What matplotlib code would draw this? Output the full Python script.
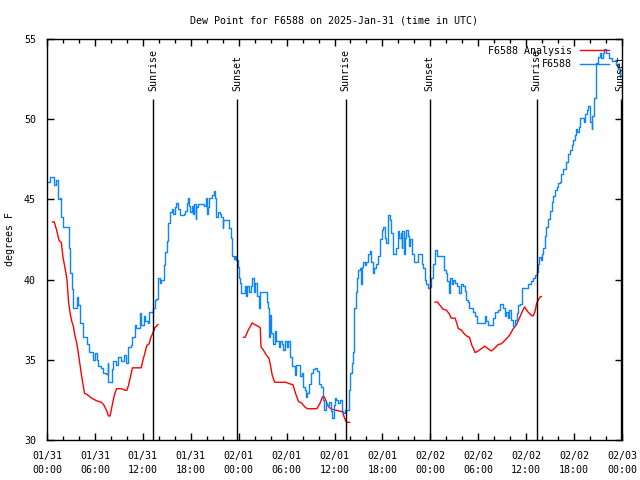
#!/usr/bin/python
# -*- coding: utf-8 -*-
"""
dew point chart for F6588, gnuplot look-alike
time axis in hours after 2025-01-31 00:00 UTC
"""

import numpy as np
import matplotlib
matplotlib.use('Agg')
import matplotlib.pyplot as plt
from matplotlib.ticker import MultipleLocator

# observed dew point (F6588)
obs_hours = [0.15, 0.4, 0.8, 0.9, 1.1, 1.4, 1.6, 1.8, 2.0, 2.5, 2.7, 2.9, 3.1, 3.3, 3.6, 3.7, 3.9,
             4.1, 4.5, 5.0, 5.2, 5.6, 5.8, 6.0, 6.2, 6.4, 6.8, 7.0, 7.4, 7.6, 7.7, 7.9, 8.1, 8.3,
             8.6, 8.9, 9.3, 9.7, 9.9, 10.1, 10.5, 10.7, 11.0, 11.2, 11.6, 11.8, 12.1, 12.3, 12.6,
             12.8, 13.1, 13.3, 13.5, 13.7, 13.9, 14.1, 14.3, 14.6, 14.8, 15.0, 15.2, 15.4, 15.6,
             15.8, 16.0, 16.2, 16.4, 16.6, 17.1, 17.3, 17.5, 17.6, 17.8, 17.9, 18.1, 18.3, 18.4,
             18.6, 18.7, 18.9, 19.7, 19.9, 20.0, 20.2, 20.3, 20.6, 20.9, 21.0, 21.2, 21.4, 21.6,
             21.8, 22.0, 22.1, 22.4, 22.8, 23.0, 23.2, 23.4, 23.6, 23.7, 23.9, 24.0, 24.2, 24.3,
             24.6, 24.8, 24.9, 25.1, 25.3, 25.5, 25.7, 25.9, 26.1, 26.3, 26.5, 26.7, 27.1, 27.5,
             27.7, 27.8, 27.9, 28.0, 28.3, 28.5, 28.7, 29.0, 29.2, 29.4, 29.6, 29.8, 30.1, 30.2,
             30.4, 30.7, 31.0, 31.2, 31.5, 31.7, 31.9, 32.1, 32.3, 32.4, 32.6, 32.8, 33.0, 33.3,
             33.5, 33.8, 34.0, 34.3, 34.5, 34.6, 34.7, 34.9, 35.1, 35.3, 35.5, 35.7, 35.9, 36.0,
             36.2, 36.5, 36.7, 36.9, 37.1, 37.3, 37.7, 37.8, 37.9, 38.0, 38.2, 38.3, 38.4, 38.5,
             38.7, 38.8, 39.0, 39.2, 39.3, 39.5, 39.6, 39.8, 40.0, 40.2, 40.4, 40.6, 40.8, 41.0,
             41.2, 41.5, 41.7, 41.9, 42.1, 42.3, 42.5, 42.7, 42.9, 43.1, 43.3, 43.6, 43.7, 43.9,
             44.1, 44.3, 44.4, 44.5, 44.7, 44.8, 45.0, 45.2, 45.3, 45.5, 45.7, 45.9, 46.2, 46.4,
             46.7, 46.9, 47.1, 47.3, 47.5, 47.7, 47.9, 48.1, 48.3, 48.6, 48.8, 49.5, 49.7, 49.9,
             50.1, 50.3, 50.5, 50.7, 50.9, 51.1, 51.4, 51.6, 51.8, 52.1, 52.3, 52.5, 52.7, 52.9,
             53.1, 53.3, 53.6, 53.9, 54.6, 54.8, 55.0, 55.2, 55.6, 55.8, 56.1, 56.5, 56.7, 56.9,
             57.1, 57.3, 57.5, 57.7, 57.8, 58.1, 58.3, 58.4, 58.6, 58.8, 59.0, 59.2, 59.4, 59.5,
             60.0, 60.2, 60.6, 60.8, 61.1, 61.3, 61.5, 61.6, 61.8, 62.0, 62.1, 62.3, 62.5, 62.7,
             63.0, 63.2, 63.4, 63.6, 63.8, 64.0, 64.2, 64.4, 64.6, 64.8, 65.0, 65.2, 65.5, 65.7,
             65.9, 66.1, 66.2, 66.4, 66.6, 66.8, 67.1, 67.2, 67.4, 67.6, 67.8, 68.0, 68.2, 68.3,
             68.5, 68.7, 68.8, 69.0, 69.2, 69.4, 69.6, 69.7, 69.8, 70.0, 70.4, 70.7, 71.1, 71.3,
             71.5, 71.7]
obs_dewpt = [46.1, 46.4, 46.4, 45.9, 46.2, 45.0, 45.1, 43.9, 43.3, 43.3, 42.0, 40.4, 39.4, 38.2,
             38.2, 38.9, 38.4, 37.3, 36.4, 36.0, 35.5, 35.5, 35.0, 35.4, 35.0, 34.6, 34.5, 34.2,
             34.1, 34.8, 33.6, 33.6, 34.4, 34.9, 34.7, 35.2, 34.9, 35.3, 34.8, 35.8, 35.9, 36.4,
             37.2, 37.0, 37.9, 37.2, 37.7, 37.4, 37.3, 38.0, 38.0, 38.2, 38.7, 38.8, 40.1, 39.8,
             40.0, 40.9, 41.7, 42.4, 43.5, 44.2, 44.4, 44.1, 44.5, 44.75, 44.4, 44.0, 44.1, 44.3,
             44.75, 45.1, 44.6, 44.2, 44.6, 44.1, 44.7, 43.8, 44.5, 44.7, 44.6, 45.1, 44.1, 44.5,
             45.1, 45.3, 45.5, 45.1, 43.9, 44.2, 44.1, 43.9, 43.2, 43.7, 43.7, 43.2, 42.6, 41.5,
             41.3, 41.5, 41.2, 40.8, 40.1, 39.8, 39.15, 39.15, 39.6, 39.0, 39.6, 39.2, 39.6, 40.1,
             39.2, 39.8, 39.0, 38.2, 39.25, 39.2, 38.6, 38.2, 36.4, 37.8, 36.7, 36.0, 36.8, 36.2,
             35.8, 36.2, 36.0, 35.6, 36.2, 35.8, 36.2, 35.2, 34.6, 34.05, 34.7, 34.7, 34.0, 34.2,
             33.3, 33.1, 32.7, 32.9, 33.5, 34.2, 34.4, 34.5, 34.3, 33.5, 33.3, 32.7, 32.5, 31.9,
             32.3, 32.2, 32.4, 31.8, 31.35, 32.2, 32.6, 32.5, 32.3, 32.5, 31.8, 31.7, 31.9, 31.9,
             33.1, 33.4, 34.2, 34.8, 35.5, 36.65, 38.2, 39.25, 40.1, 40.6, 40.7, 39.7, 40.8, 41.1,
             40.9, 41.1, 41.6, 41.8, 41.1, 40.4, 40.7, 41.0, 41.5, 42.5, 43.1, 43.3, 42.6, 42.3,
             44.0, 43.7, 42.9, 41.6, 41.6, 42.0, 43.0, 42.6, 42.9, 42.0, 43.0, 41.6, 42.6, 43.1,
             42.7, 42.1, 42.5, 41.6, 41.1, 41.1, 41.6, 41.6, 41.0, 40.7, 40.0, 39.7, 39.5, 39.55,
             40.1, 41.0, 41.85, 41.5, 41.5, 40.6, 40.4, 39.9, 39.15, 40.1, 39.7, 40.0, 39.8, 39.6,
             39.15, 39.7, 39.6, 39.3, 38.7, 38.6, 38.2, 38.2, 38.0, 37.7, 37.3, 37.3, 37.7, 37.4,
             37.2, 37.2, 37.6, 38.0, 38.1, 38.5, 38.5, 38.2, 37.7, 38.0, 37.6, 38.1, 37.5, 37.4,
             37.1, 37.5, 37.9, 38.4, 38.5, 38.5, 39.45, 39.45, 39.7, 39.9, 40.1, 40.3, 40.5, 41.0,
             41.4, 41.2, 41.6, 41.95, 42.7, 43.3, 43.8, 44.3, 44.85, 45.2, 45.6, 45.75, 46.0, 46.1,
             46.6, 46.9, 46.9, 47.35, 47.8, 48.1, 48.4, 48.7, 49.0, 49.4, 49.2, 49.5, 50.1, 50.1,
             49.8, 50.3, 50.6, 50.8, 49.85, 49.4, 50.2, 51.3, 52.4, 53.5, 53.9, 54.1, 53.8, 54.1,
             54.2, 54.35, 54.1, 53.8, 53.6, 53.6, 53.4, 53.1, 52.65]

# analysis dew point, three pieces (nan = no data)
ana_hours = [0.7, 0.9, 1.2, 1.5, 1.8, 2.0, 2.3, 2.5, 2.7, 2.9, 3.1, 3.3, 3.5, 3.7, 3.9, 4.1, 4.3,
             4.5, 4.7, 5.0, 5.6, 6.2, 6.8, 7.1, 7.5, 7.7, 7.9, 8.1, 8.3, 8.5, 8.7, 9.1, 9.3, 9.8,
             10.0, 10.2, 10.4, 10.7, 11.8, 12.0, 12.3, 12.5, 12.8, 13.0, 13.2, 13.4, 13.5, 13.7,
             13.9, 14.0,
             24.6, 24.8, 25.2, 25.7, 26.0, 26.4, 26.7, 26.8, 27.1, 27.4, 27.6, 27.8, 28.0, 28.2,
             28.5, 28.8, 29.9, 30.4, 30.8, 31.0, 31.2, 31.5, 31.9, 32.3, 32.6, 33.8, 34.2, 34.5,
             34.7, 34.9, 35.1, 35.4, 35.8, 36.2, 36.7, 37.0, 37.2, 37.4, 37.6, 37.9, 38.0,
             48.6, 48.9, 49.2, 49.6, 50.0, 50.4, 50.6, 51.1, 51.3, 51.5, 51.9, 52.2, 52.5, 52.9,
             53.2, 53.4, 53.6, 54.0, 54.4, 54.8, 55.2, 55.65, 56.0, 56.5, 56.9, 57.3, 57.7, 58.0,
             58.4, 58.8, 59.2, 59.5, 59.8, 60.2, 60.7, 60.9, 61.1, 61.3, 61.5, 61.7, 61.9]
ana_dewpt = [43.6, 43.6, 43.1, 42.45, 42.3, 41.4, 40.6, 40.0, 38.6, 37.9, 37.4, 37.1, 36.5, 36.1,
             35.5, 34.8, 34.1, 33.5, 32.9, 32.85, 32.6, 32.45, 32.35, 32.2, 31.8, 31.5, 31.5, 32.0,
             32.5, 32.9, 33.2, 33.2, 33.2, 33.1, 33.1, 33.4, 33.85, 34.5, 34.5, 34.95, 35.5, 35.9,
             36.0, 36.4, 36.6, 36.85, 37.0, 37.1, 37.2, np.nan,
             36.4, 36.4, 36.85, 37.3, 37.2, 37.1, 37.0, 35.8, 35.6, 35.35, 35.2, 35.1, 34.6, 34.05,
             33.6, 33.6, 33.6, 33.5, 33.45, 33.1, 32.8, 32.4, 32.3, 32.05, 31.95, 31.95, 32.3,
             32.7, 32.7, 32.5, 32.2, 32.0, 31.9, 31.85, 31.8, 31.75, 31.45, 31.2, 31.1, 31.1,
             np.nan,
             38.6, 38.6, 38.4, 38.15, 38.1, 37.85, 37.6, 37.6, 37.3, 36.95, 36.85, 36.65, 36.5,
             36.4, 35.9, 35.7, 35.45, 35.55, 35.7, 35.85, 35.7, 35.55, 35.7, 35.95, 36.0, 36.2,
             36.4, 36.6, 36.95, 37.2, 37.65, 38.0, 38.3, 38.0, 37.75, 37.75, 38.0, 38.5, 38.7,
             38.9, 38.95]

sun_hours = [13.27, 23.78, 37.4, 47.9, 61.3, 71.85]
sun_labels = ['Sunrise', 'Sunset', 'Sunrise', 'Sunset', 'Sunrise', 'Sunset']

tick_hours = list(range(0, 73, 6))
tick_labels = ['01/31\n00:00', '01/31\n06:00', '01/31\n12:00', '01/31\n18:00',
               '02/01\n00:00', '02/01\n06:00', '02/01\n12:00', '02/01\n18:00',
               '02/02\n00:00', '02/02\n06:00', '02/02\n12:00', '02/02\n18:00',
               '02/03\n00:00']

FS = 7.2
plt.rcParams['font.family'] = ['DejaVu Sans Mono']
plt.rcParams['font.size'] = FS

fig = plt.figure(figsize=(6.4, 4.8), dpi=100)
ax = fig.add_axes([47 / 640., 40 / 480., 575 / 640., 401 / 480.])

ax.plot(ana_hours, ana_dewpt, color='#ff0000', lw=1.0, label='F6588 Analysis')
ax.plot(obs_hours, obs_dewpt, color='#0a84ff', lw=1.0, drawstyle='steps-post', label='F6588')

for h, name in zip(sun_hours, sun_labels):
    ax.vlines(h, 30, 51.25, color='black', lw=1.0)
    ax.text(h, 51.75, name, rotation=90, ha='center', va='bottom', fontsize=FS)

ax.set_xlim(0, 72)
ax.set_ylim(30, 55)
ax.set_xticks(tick_hours)
ax.set_xticklabels(tick_labels)
for t in ax.get_xticklabels():
    t.set_linespacing(1.45)
ax.xaxis.set_minor_locator(MultipleLocator(2))
ax.set_yticks([30, 35, 40, 45, 50, 55])
ax.tick_params(which='both', direction='in', top=True, right=True, width=1.0)
ax.tick_params(which='major', length=5)
ax.tick_params(which='minor', length=3)
ax.tick_params(axis='x', which='major', pad=8)
ax.tick_params(axis='y', which='major', pad=8)
for s in ax.spines.values():
    s.set_linewidth(1.0)

ax.set_title('Dew Point for F6588 on 2025-Jan-31 (time in UTC)', fontsize=FS, pad=11)
ax.set_ylabel('degrees F', fontsize=FS)
ax.yaxis.set_label_coords(-32 / 575., 0.5)

ax.legend(loc='upper right', bbox_to_anchor=(1 - 7 / 575., 1 - 1 / 401.), frameon=False,
          markerfirst=False, handlelength=2.9, borderaxespad=0.2, labelspacing=0.35,
          handletextpad=0.8, fontsize=FS)

plt.savefig('out.png', dpi=100)
